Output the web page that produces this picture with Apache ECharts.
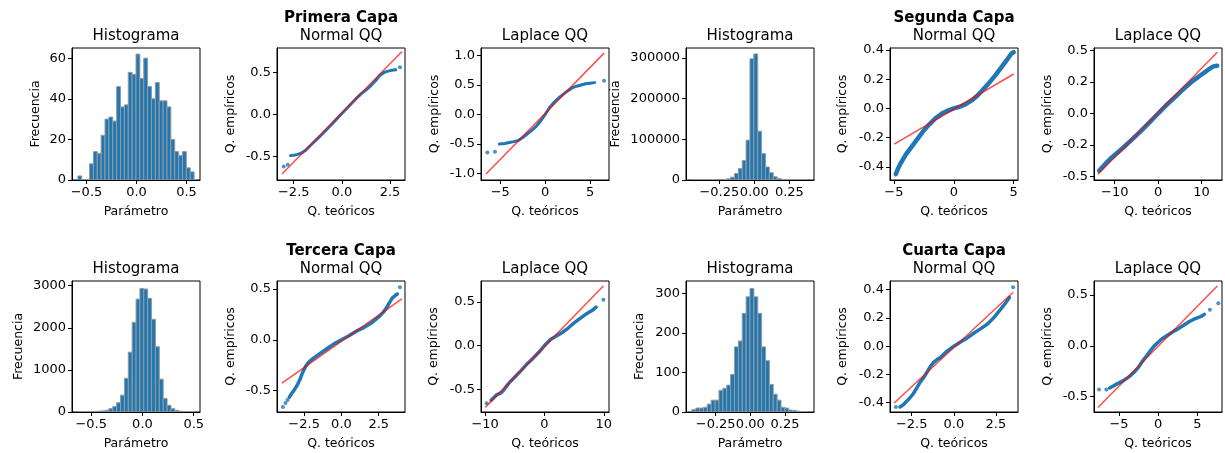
<!DOCTYPE html>
<html>
<head>
<meta charset="utf-8">
<title>Histogramas y QQ por capa</title>
<script src="https://cdn.jsdelivr.net/npm/echarts@6.0.0/dist/echarts.min.js"></script>
<style>
  html, body { margin: 0; padding: 0; background: #fff; }
  #chart { width: 1225px; height: 453px; }
</style>
</head>
<body>
<div id="chart"></div>
<script>
// nombres de las capas (titulo en negrita sobre el Normal QQ)
const layerNames = ['Primera Capa', 'Segunda Capa', 'Tercera Capa', 'Cuarta Capa'];

// histogramas: 30 barras, rango [min, max] de los datos
const hist1Range = [-0.586, 0.576];
const hist1Counts = [2, 0, 0, 8, 14, 13, 22, 30, 31, 29, 46, 36, 37, 53, 52, 62, 50, 60, 46, 40, 48, 39, 39, 36, 20, 14, 12, 14, 6, 4];
const hist2Range = [-0.4465, 0.384];
const hist2Counts = [5, 10, 20, 40, 80, 150, 250, 500, 1200, 3000, 7000, 16000, 28000, 48000, 98000, 298000, 310000, 120000, 65000, 32000, 18000, 8000, 4000, 1500, 600, 250, 100, 50, 20, 10];
const hist3Range = [-0.63, 0.505];
const hist3Counts = [5, 5, 10, 10, 15, 20, 25, 40, 80, 130, 220, 400, 800, 1420, 2130, 2680, 2930, 2920, 2700, 2200, 1550, 780, 320, 160, 80, 40, 20, 10, 5, 3];
const hist4Range = [-0.422, 0.417];
const hist4Counts = [6, 10, 10, 12, 20, 30, 30, 55, 60, 68, 95, 165, 180, 250, 292, 313, 292, 250, 165, 130, 70, 45, 30, 12, 10, 5, 4, 2, 1, 1];

// QQ: [cuantil teorico, cuantil empirico]; curva densa, puntos sueltos y recta de referencia
const normal1Curve = [[-2.67, -0.49], [-2.5, -0.485], [-2.3, -0.475], [-2.1, -0.46], [-1.9, -0.43], [-1.7, -0.385], [-1.5, -0.34], [-1.25, -0.285], [-1.0, -0.23], [-0.75, -0.17], [-0.5, -0.11], [-0.25, -0.05], [0, 0.01], [0.25, 0.07], [0.5, 0.13], [0.75, 0.19], [1.0, 0.245], [1.25, 0.29], [1.5, 0.34], [1.75, 0.40], [2.0, 0.47], [2.2, 0.50], [2.4, 0.515], [2.6, 0.525], [2.8, 0.53]];
const normal1Out = [[-3.02, -0.62], [-2.81, -0.60], [3.02, 0.56]];
const normal1Ref = [[-3.11, -0.708], [3.125, 0.748]];

const laplace1Curve = [[-5.1, -0.50], [-4.5, -0.49], [-4.0, -0.475], [-3.5, -0.46], [-3.0, -0.44], [-2.5, -0.39], [-2.0, -0.33], [-1.5, -0.27], [-1.0, -0.2], [-0.5, -0.11], [0, 0.0], [0.5, 0.12], [1.0, 0.21], [1.5, 0.28], [2.0, 0.34], [2.5, 0.40], [3.0, 0.45], [3.5, 0.48], [4.0, 0.50], [4.5, 0.52], [5.0, 0.53], [5.5, 0.54]];
const laplace1Out = [[-6.44, -0.645], [-5.59, -0.63], [6.56, 0.57]];
const laplace1Ref = [[-6.59, -1.01], [6.56, 1.04]];

const normal2Curve = [[-4.85, -0.45], [-4.7, -0.42], [-4.5, -0.385], [-4.0, -0.315], [-3.5, -0.26], [-3.0, -0.205], [-2.5, -0.15], [-2.0, -0.105], [-1.5, -0.065], [-1.0, -0.035], [-0.5, -0.015], [0, 0.0], [0.5, 0.012], [1.0, 0.03], [1.5, 0.055], [2.0, 0.09], [2.5, 0.135], [3.0, 0.18], [3.5, 0.23], [4.0, 0.285], [4.5, 0.34], [4.8, 0.375], [5.0, 0.385]];
const normal2Out = [];
const normal2Ref = [[-4.97, -0.245], [5.0, 0.236]];

const laplace2Curve = [[-13.6, -0.455], [-12.8, -0.425], [-12, -0.395], [-11, -0.36], [-10, -0.33], [-8, -0.27], [-6, -0.205], [-4, -0.14], [-2, -0.07], [0, 0.0], [2, 0.07], [4, 0.135], [6, 0.2], [8, 0.26], [9, 0.285], [10, 0.31], [11, 0.335], [12, 0.36], [12.7, 0.375], [13.6, 0.38]];
const laplace2Out = [];
const laplace2Ref = [[-13.85, -0.484], [13.6, 0.487]];

const normal3Curve = [[-3.5, -0.565], [-3.35, -0.53], [-3.2, -0.5], [-3.0, -0.455], [-2.8, -0.395], [-2.6, -0.32], [-2.4, -0.26], [-2.2, -0.22], [-2.0, -0.195], [-1.5, -0.14], [-1.0, -0.09], [-0.5, -0.04], [0, 0.0], [0.5, 0.04], [1.0, 0.085], [1.5, 0.12], [2.0, 0.165], [2.5, 0.225], [2.8, 0.27], [3.0, 0.31], [3.2, 0.36], [3.4, 0.41], [3.6, 0.435], [3.75, 0.45]];
const normal3Out = [[-3.92, -0.66], [-3.75, -0.62], [-3.62, -0.59], [3.92, 0.516]];
const normal3Ref = [[-3.99, -0.425], [4.05, 0.402]];

const laplace3Curve = [[-9.0, -0.625], [-8.1, -0.565], [-7.4, -0.545], [-7.0, -0.52], [-6.0, -0.43], [-5.0, -0.36], [-4.0, -0.29], [-3.0, -0.215], [-2.0, -0.15], [-1.0, -0.08], [0, 0.0], [1.0, 0.07], [2.0, 0.11], [3.0, 0.15], [4.0, 0.2], [5.0, 0.26], [6.0, 0.31], [7.0, 0.36], [8.0, 0.40], [8.7, 0.44]];
const laplace3Out = [[-9.75, -0.66], [9.92, 0.524]];
const laplace3Ref = [[-9.97, -0.707], [9.92, 0.68]];

const normal4Curve = [[-3.2, -0.43], [-3.0, -0.415], [-2.8, -0.39], [-2.6, -0.365], [-2.4, -0.335], [-2.2, -0.295], [-2.0, -0.255], [-1.8, -0.225], [-1.6, -0.185], [-1.4, -0.145], [-1.2, -0.115], [-1.0, -0.095], [-0.8, -0.08], [-0.4, -0.035], [0, 0.0], [0.4, 0.03], [0.8, 0.058], [1.2, 0.093], [1.6, 0.124], [2.0, 0.157], [2.4, 0.205], [2.7, 0.25], [2.9, 0.28], [3.1, 0.31], [3.3, 0.345]];
const normal4Out = [[-3.44, -0.43], [3.52, 0.416]];
const normal4Ref = [[-3.54, -0.402], [3.52, 0.381]];

const laplace4Curve = [[-6.2, -0.415], [-5.5, -0.385], [-5.0, -0.365], [-4.5, -0.345], [-4.0, -0.32], [-3.5, -0.29], [-3.0, -0.255], [-2.5, -0.21], [-2.0, -0.15], [-1.5, -0.1], [-1.0, -0.05], [-0.5, 0.0], [0, 0.035], [0.5, 0.07], [1.0, 0.095], [1.5, 0.12], [2.0, 0.145], [2.5, 0.165], [3.0, 0.19], [3.5, 0.215], [4.0, 0.24], [4.5, 0.26], [5.0, 0.275], [5.5, 0.29], [5.9, 0.31]];
const laplace4Out = [[-7.56, -0.43], [-6.62, -0.43], [6.62, 0.355], [7.69, 0.42]];
const laplace4Ref = [[-7.69, -0.607], [7.56, 0.59]];

// marcas de los ejes y sus textos (x usa el signo menos tipografico)
const ticksHalf = [-0.5, 0, 0.5];
const xLabelsHalf = ['\u22120.5', '0.0', '0.5'];
const yLabelsHalf = ['-0.5', '0.0', '0.5'];
const ticksQuarter = [-0.25, 0, 0.25];
const xLabelsQuarter = ['\u22120.25', '0.00', '0.25'];
const ticksNormal = [-2.5, 0, 2.5];
const xLabelsNormal = ['\u22122.5', '0.0', '2.5'];
const ticksFive = [-5, 0, 5];
const xLabelsFive = ['\u22125', '0', '5'];
const ticksTen = [-10, 0, 10];
const xLabelsTen = ['\u221210', '0', '10'];
const ticksOne = [-1, -0.5, 0, 0.5, 1];
const yLabelsOne = ['-1.0', '-0.5', '0.0', '0.5', '1.0'];
const ticksFifth = [-0.4, -0.2, 0, 0.2, 0.4];
const yLabelsFifth = ['-0.4', '-0.2', '0.0', '0.2', '0.4'];
const ticksQuarterY = [-0.5, -0.25, 0, 0.25, 0.5];
const yLabelsQuarterY = ['-0.5', '-0.2', '0.0', '0.2', '0.5'];
const ticksHist1 = [0, 20, 40, 60];
const ticksHist2 = [0, 100000, 200000, 300000];
const ticksHist3 = [0, 1000, 2000, 3000];
const ticksHist4 = [0, 100, 200, 300];

const FONT = 'DejaVu Sans';
const colLeft = [72, 277, 481, 686, 890, 1094];
const rowTop = [48, 281];
const rowHeight = [132, 131];
const panelWidth = 128;
const titleTop = [29, 262];
// grosor de la nube de puntos densa por capa
const bandWidth = [3, 4.5, 3.5, 3.5];

const panels = [
  {row: 0, col: 0, kind: 'hist', counts: hist1Counts, range: hist1Range, xLim: [-0.645, 0.635], yLim: [0, 65],
   xt: ticksHalf, xl: xLabelsHalf, yt: ticksHist1, yl: ticksHist1.map(String), yGap: 30},
  {row: 0, col: 1, kind: 'normal', layer: 0, curve: normal1Curve, out: normal1Out, ref: normal1Ref, xLim: [-3.37, 3.28], yLim: [-0.78, 0.79],
   xt: ticksNormal, xl: xLabelsNormal, yt: ticksHalf, yl: yLabelsHalf, yGap: 40},
  {row: 0, col: 2, kind: 'laplace', layer: 0, curve: laplace1Curve, out: laplace1Out, ref: laplace1Ref, xLim: [-7.15, 7.11], yLim: [-1.11, 1.127],
   xt: ticksFive, xl: xLabelsFive, yt: ticksOne, yl: yLabelsOne, yGap: 40},
  {row: 0, col: 3, kind: 'hist', counts: hist2Counts, range: hist2Range, xLim: [-0.488, 0.426], yLim: [0, 324600],
   xt: ticksQuarter, xl: xLabelsQuarter, yt: ticksHist2, yl: ticksHist2.map(String), yGap: 64},
  {row: 0, col: 4, kind: 'normal', layer: 1, curve: normal2Curve, out: normal2Out, ref: normal2Ref, xLim: [-5.33, 5.36], yLim: [-0.49, 0.414],
   xt: ticksFive, xl: xLabelsFive, yt: ticksFifth, yl: yLabelsFifth, yGap: 41},
  {row: 0, col: 5, kind: 'laplace', layer: 1, curve: laplace2Curve, out: laplace2Out, ref: laplace2Ref, xLim: [-14.77, 14.69], yLim: [-0.529, 0.521],
   xt: ticksTen, xl: xLabelsTen, yt: ticksQuarterY, yl: yLabelsQuarterY, yGap: 40},
  {row: 1, col: 0, kind: 'hist', counts: hist3Counts, range: hist3Range, xLim: [-0.687, 0.561], yLim: [0, 3110],
   xt: ticksHalf, xl: xLabelsHalf, yt: ticksHist3, yl: ticksHist3.map(String), yGap: 47},
  {row: 1, col: 1, kind: 'normal', layer: 2, curve: normal3Curve, out: normal3Out, ref: normal3Ref, xLim: [-4.32, 4.26], yLim: [-0.709, 0.578],
   xt: ticksNormal, xl: xLabelsNormal, yt: ticksHalf, yl: yLabelsHalf, yGap: 40},
  {row: 1, col: 2, kind: 'laplace', layer: 2, curve: laplace3Curve, out: laplace3Out, ref: laplace3Ref, xLim: [-10.7, 10.87], yLim: [-0.76, 0.738],
   xt: ticksTen, xl: xLabelsTen, yt: ticksHalf, yl: yLabelsHalf, yGap: 41},
  {row: 1, col: 3, kind: 'hist', counts: hist4Counts, range: hist4Range, xLim: [-0.464, 0.459], yLim: [0, 332],
   xt: ticksQuarter, xl: xLabelsQuarter, yt: ticksHist4, yl: ticksHist4.map(String), yGap: 40},
  {row: 1, col: 4, kind: 'normal', layer: 3, curve: normal4Curve, out: normal4Out, ref: normal4Ref, xLim: [-3.79, 3.81], yLim: [-0.466, 0.461],
   xt: ticksNormal, xl: xLabelsNormal, yt: ticksFifth, yl: yLabelsFifth, yGap: 41},
  {row: 1, col: 5, kind: 'laplace', layer: 3, curve: laplace4Curve, out: laplace4Out, ref: laplace4Ref, xLim: [-8.2, 8.16], yLim: [-0.652, 0.639],
   xt: ticksFive, xl: xLabelsFive, yt: ticksHalf, yl: yLabelsHalf, yGap: 40}
];

function labelFor(ticks, labels) {
  return function (v) {
    let best = 0;
    for (let i = 1; i < ticks.length; i++) {
      if (Math.abs(ticks[i] - v) < Math.abs(ticks[best] - v)) best = i;
    }
    return labels[best];
  };
}

function makeAxis(k, lim, ticks, labels, name, gap, isY) {
  return {
    type: 'value', gridIndex: k, min: lim[0], max: lim[1], scale: true,
    name: name, nameLocation: 'middle', nameGap: gap, nameRotate: isY ? 90 : 0,
    nameTextStyle: {fontFamily: FONT, fontSize: 12.5, color: '#000'},
    axisLine: {show: true, onZero: false, lineStyle: {color: '#000', width: 1}},
    axisTick: {show: true, inside: false, length: 4, customValues: ticks, lineStyle: {color: '#000', width: 1}},
    axisLabel: {show: true, customValues: ticks, formatter: labelFor(ticks, labels), margin: 6,
      fontFamily: FONT, fontSize: 13, color: '#000'},
    splitLine: {show: false}
  };
}

function histBars(params, api) {
  const p0 = api.coord([api.value(0), 0]);
  const p1 = api.coord([api.value(1), api.value(2)]);
  return {
    type: 'rect',
    shape: {x: p0[0], y: p1[1], width: p1[0] - p0[0], height: p0[1] - p1[1]},
    style: {fill: '#1f77b4', stroke: '#9a9a9a', lineWidth: 1}
  };
}

const grids = [], xAxes = [], yAxes = [], series = [], titles = [];
const titleStyle = {fontFamily: FONT, fontSize: 15, fontWeight: 'normal', color: '#000'};

panels.forEach(function (p, k) {
  const left = colLeft[p.col];
  grids.push({left: left, top: rowTop[p.row], width: panelWidth, height: rowHeight[p.row],
    show: true, borderColor: '#000', borderWidth: 1, backgroundColor: 'transparent',
    containLabel: false, outerBoundsMode: 'none'});

  const isHist = p.kind === 'hist';
  xAxes.push(makeAxis(k, p.xLim, p.xt, p.xl, isHist ? 'Parámetro' : 'Q. teóricos', 25, false));
  yAxes.push(makeAxis(k, p.yLim, p.yt, p.yl, isHist ? 'Frecuencia' : 'Q. empíricos', p.yGap, true));

  const cx = left + panelWidth / 2;
  const title = isHist ? 'Histograma' : (p.kind === 'normal' ? 'Normal QQ' : 'Laplace QQ');
  titles.push({text: title, left: cx, top: titleTop[p.row], textAlign: 'center', padding: 0, textStyle: titleStyle});
  if (p.kind === 'normal') {
    titles.push({text: layerNames[p.layer], left: cx, top: titleTop[p.row] - 18, textAlign: 'center', padding: 0,
      textStyle: {fontFamily: FONT, fontSize: 15, fontWeight: 'bold', color: '#000'}});
  }

  if (isHist) {
    const w = (p.range[1] - p.range[0]) / p.counts.length;
    const bars = p.counts.map(function (c, i) {
      return [p.range[0] + i * w, p.range[0] + (i + 1) * w, c];
    });
    series.push({type: 'custom', xAxisIndex: k, yAxisIndex: k, data: bars, renderItem: histBars,
      encode: {x: [0, 1], y: 2}, clip: true, silent: true});
  } else {
    series.push({type: 'line', xAxisIndex: k, yAxisIndex: k, data: p.curve, symbol: 'none', z: 2,
      lineStyle: {color: '#1f77b4', width: bandWidth[p.layer], cap: 'round', join: 'round'}, silent: true});
    series.push({type: 'scatter', xAxisIndex: k, yAxisIndex: k, data: p.out, symbolSize: 4, z: 2,
      itemStyle: {color: '#1f77b4'}, silent: true});
    series.push({type: 'line', xAxisIndex: k, yAxisIndex: k, data: p.ref, symbol: 'none', z: 3,
      lineStyle: {color: 'rgba(255,0,0,0.7)', width: 1.5}, silent: true});
  }
});

const chart = echarts.init(document.getElementById('chart'));
chart.setOption({
  animation: false,
  backgroundColor: '#fff',
  title: titles,
  grid: grids,
  xAxis: xAxes,
  yAxis: yAxes,
  series: series
});
</script>
</body>
</html>
